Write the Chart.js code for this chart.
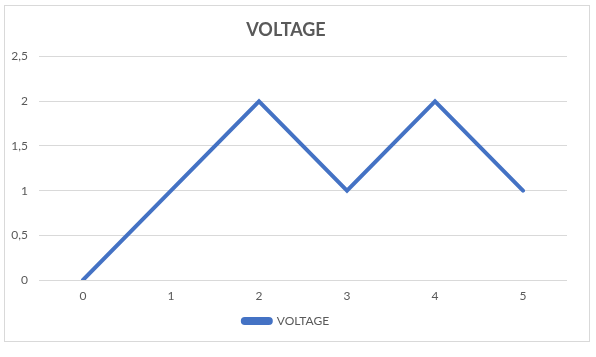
<!DOCTYPE html>
<html>
<head>
<meta charset="utf-8">
<script src="https://cdn.jsdelivr.net/npm/chart.js@4"></script>
<style>
html,body{margin:0;padding:0;background:#fff;}
#wrap{position:relative;width:596px;height:357px;}
</style>
</head>
<body>
<div id="wrap"><canvas id="c" width="596" height="357"></canvas></div>
<script>
const titleText = 'VOLTAGE';
const categories = ['0', '1', '2', '3', '4', '5'];
const seriesName = 'VOLTAGE';
const voltage = [0, 1, 2, 1, 2, 1];
const yTicks = [0, 0.5, 1, 1.5, 2, 2.5];

const FONT = 'Lato, "Liberation Sans", sans-serif';
const GREY = '#595959';

const frame = {
  id: 'frame',
  beforeDraw(chart) {
    const ctx = chart.ctx;
    ctx.save();
    ctx.fillStyle = '#fff';
    ctx.fillRect(0, 0, chart.width, chart.height);
    ctx.strokeStyle = '#d9d9d9';
    ctx.lineWidth = 1;
    ctx.strokeRect(4.5, 5.5, 585, 336);
    ctx.restore();
  }
};

new Chart(document.getElementById('c'), {
  type: 'line',
  data: {
    labels: categories,
    datasets: [{
      label: seriesName,
      data: voltage,
      borderColor: '#4472C4',
      backgroundColor: '#4472C4',
      borderWidth: 4,
      pointRadius: 0,
      tension: 0,
      borderCapStyle: 'round',
      borderJoinStyle: 'miter',
      fill: false
    }]
  },
  options: {
    responsive: false,
    animation: false,
    devicePixelRatio: 1,
    layout: { padding: { left: 5, right: 29, top: 0, bottom: 20 } },
    plugins: {
      title: {
        display: true,
        text: titleText,
        color: GREY,
        font: { family: FONT, size: 18, weight: 'bold' },
        padding: { top: 19, bottom: 16 }
      },
      legend: {
        display: true,
        position: 'bottom',
        labels: {
          color: GREY,
          font: { family: FONT, size: 12 },
          boxWidth: 28,
          boxHeight: 4,
          padding: 10,
          useBorderRadius: true,
          borderRadius: 2
        }
      },
      tooltip: { enabled: false }
    },
    scales: {
      x: {
        offset: true,
        grid: { display: false, drawTicks: false },
        border: { display: false },
        afterFit(scale) { scale.height = 25; },
        ticks: { color: GREY, font: { family: FONT, size: 12 }, padding: 9 }
      },
      y: {
        min: 0,
        max: 2.5,
        afterBuildTicks(scale) { scale.ticks = yTicks.map(v => ({ value: v })); },
        afterFit(scale) { scale.width = 34; },
        grid: { color: '#d9d9d9', drawTicks: false },
        border: { display: false },
        ticks: {
          color: GREY,
          font: { family: FONT, size: 12 },
          padding: 11,
          callback: v => String(v).replace('.', ',')
        }
      }
    }
  },
  plugins: [frame]
});
</script>
</body>
</html>
